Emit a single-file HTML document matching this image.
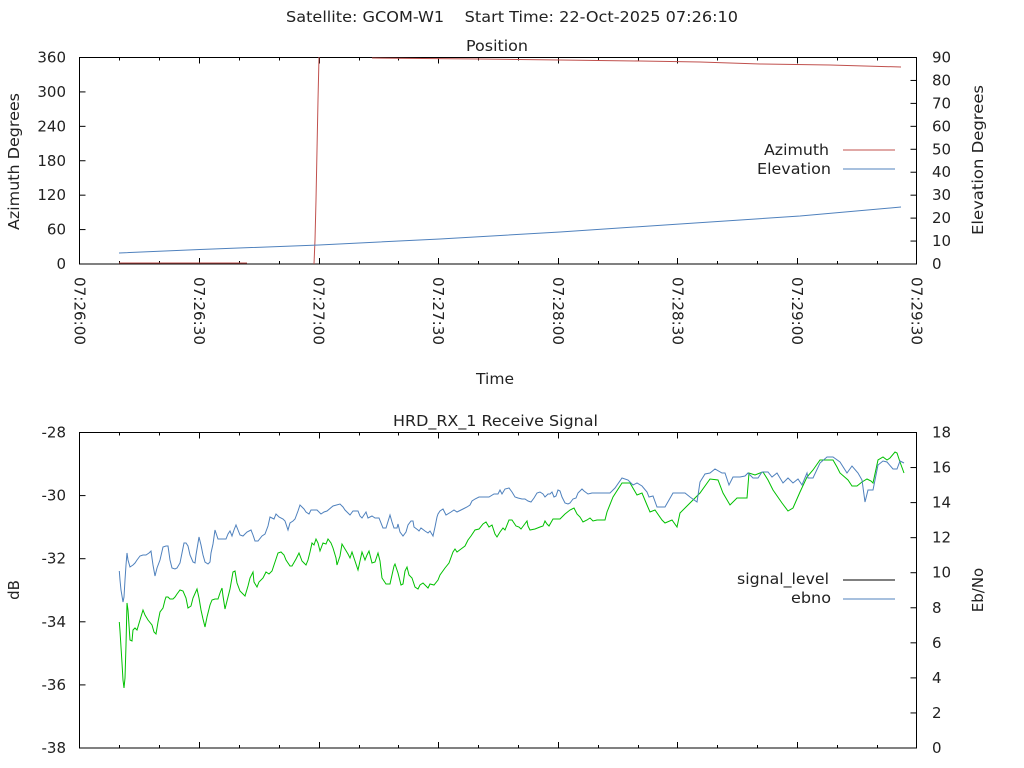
<!DOCTYPE html>
<html><head><meta charset="utf-8"><style>
html,body{margin:0;padding:0;background:#fff;}
svg{display:block;font-family:"DejaVu Sans","Liberation Sans",sans-serif;font-size:15px;fill:#222;}
</style></head><body>
<svg id="s" width="1024" height="768" xmlns="http://www.w3.org/2000/svg">
<text x="286" y="22" textLength="452" lengthAdjust="spacingAndGlyphs" xml:space="preserve">Satellite: GCOM-W1    Start Time: 22-Oct-2025 07:26:10</text>
<text x="466" y="51" textLength="62" lengthAdjust="spacingAndGlyphs">Position</text>
<text x="476" y="384" textLength="38" lengthAdjust="spacingAndGlyphs">Time</text>
<text x="393" y="426" textLength="205" lengthAdjust="spacingAndGlyphs">HRD_RX_1 Receive Signal</text>
<text transform="translate(19,230) rotate(-90)" textLength="137" lengthAdjust="spacingAndGlyphs">Azimuth Degrees</text>
<text transform="translate(983,235) rotate(-90)" textLength="150" lengthAdjust="spacingAndGlyphs">Elevation Degrees</text>
<text transform="translate(19,590) rotate(-90)" text-anchor="middle">dB</text>
<text transform="translate(983,590) rotate(-90)" text-anchor="middle">Eb/No</text>
<g id="g"></g>
<text x="764" y="155" textLength="65" lengthAdjust="spacingAndGlyphs">Azimuth</text>
<line x1="843" y1="150" x2="895" y2="150" stroke="#c0504d" stroke-width="1"/>
<text x="757" y="174" textLength="74" lengthAdjust="spacingAndGlyphs">Elevation</text>
<line x1="843" y1="169" x2="895" y2="169" stroke="#4f81bd" stroke-width="1"/>
<text x="737" y="584" textLength="92" lengthAdjust="spacingAndGlyphs">signal_level</text>
<line x1="843" y1="580" x2="895" y2="580" stroke="#000" stroke-width="1"/>
<text x="791" y="603" textLength="40" lengthAdjust="spacingAndGlyphs">ebno</text>
<line x1="843" y1="599" x2="895" y2="599" stroke="#4f81bd" stroke-width="1"/>
<polyline fill="none" stroke="#c0504d" stroke-width="1" points="119,263 247,263"/>
<polyline fill="none" stroke="#c0504d" stroke-width="1" points="314,264 315,240 316,200 317,150 318,100 319,57"/>
<polyline fill="none" stroke="#c0504d" stroke-width="1" points="372,58 480,59 560,60 640,61 700,62 760,64 830,65 901,67"/>
<polyline fill="none" stroke="#4f81bd" stroke-width="1" points="119,253 200,249.5 319,245 440,239 560,232 680,224 800,216 901,207"/>
<polyline fill="none" stroke="#00c000" stroke-width="1" points="119.3,622 120,631 121,647 122,663 123,680 124,688 125,678 126,645 127,603 128,610 130,640 132,641 133,630 135,628 137,630 140,620 143,610 145,615 148,620 152,625 154,632 156,634 158,622 160,612 163,608 165,600 166,597 168,597 170,599 173,599 175,597 177,594 180,590 183,591 186,598 188,608 191,606 193,598 197,589 199,598 201,610 203,619 205,627 207,617 210,605 212,600 215,599 218,599 220,593 222,588 223,596 225,609 228,597 230,589 233,572 235,571 237,583 240,591 243,594 245,596 248,586 250,578 253,572 254,582 257,587 259,582 263,578 264,576 266,572 269,574 272,571 275,562 278,553 281,552 284,555 286,560 290,566 292,566 296,559 299,553 302,561 304,563 306,565 308,560 310,552 312,543 314,545 316,539 318,543 320,551 323,543 326,544 328,539 331,543 333,548 336,558 337,565 340,556 342,544 345,549 348,554 350,558 352,552 354,558 358,570 362,552 365,560 367,555 369,551 372,563 375,562 378,553 380,561 382,578 386,584 390,584 394,566 395,564 398,573 401,585 403,584 405,571 407,567 409,575 412,578 415,587 418,589 420,585 423,583 426,586 428,588 430,584 434,585 438,580 440,575 445,568 449,563 453,552 455,549 457,552 461,549 465,546 468,540 471,536 475,530 479,529 483,524 486,522 489,527 492,525 495,534 497,537 500,532 503,528 505,530 509,520 512,520 516,526 519,527 521,529 524,525 527,521 528,526 530,530 535,529 540,527 543,526 545,521 547,524 549,526 553,519 556,519 560,519 565,514 570,510 574,508 577,514 580,517 583,522 587,520 590,518 593,521 597,520 600,520 605,520 607,512 613,497 622,483 630,483 637,495 642,493 647,505 650,512 655,510 662,520 665,523 672,520 677,527 680,513 690,503 700,493 710,479 718,480 723,493 730,505 737,498 747,498 749,473 755,475 760,473 763,472 768,480 773,490 782,503 788,511 793,508 800,492 807,477 813,470 820,460 833,460 837,467 840,473 848,480 852,486 857,486 862,482 867,479 871,481 873,483 878,460 883,457 887,460 890,458 895,452 897,453 900,462 904,473"/>
<polyline fill="none" stroke="#4f81bd" stroke-width="1" points="119.3,571 120,580 121,590 122,596 123,602 124,597 125,580 126,565 127,553 128,560 130,567 133,565 135,563 137,560 140,556 143,555 146,555 149,553 151,551 153,565 155,576 157,568 160,560 163,547 166,546 168,546 170,560 172,568 175,569 177,568 180,563 182,553 184,543 186,543 188,546 190,555 193,562 195,563 196,555 199,537 201,545 203,555 205,562 208,564 210,562 211,553 213,544 215,530 218,539 220,539 223,539 226,539 228,534 230,531 232,536 234,530 236,525 238,530 240,535 243,536 245,534 247,532 251,530 253,535 255,541 258,541 262,536 265,534 268,526 270,517 274,519 276,514 279,517 283,519 285,521 288,530 290,523 293,521 295,519 298,511 300,505 302,507 304,509 306,512 309,514 311,510 317,510 321,514 324,512 327,511 333,506 340,504 343,507 345,510 350,515 353,511 358,511 360,516 362,518 366,512 368,518 372,516 375,518 379,518 383,528 386,528 390,515 392,522 394,528 397,528 398,524 400,532 403,536 406,532 408,525 411,521 413,521 414,527 418,530 419,531 421,528 425,531 428,533 430,531 433,536 435,527 437,517 438,514 440,511 443,509 446,515 451,512 454,510 457,512 461,510 463,509 467,507 470,505 472,501 475,499 479,497 484,497 489,497 494,494 498,494 500,490 502,494 505,489 509,488 512,492 515,497 518,498 522,499 525,499 528,501 531,502 534,498 537,493 540,492 543,494 545,497 548,494 550,494 552,492 554,497 556,496 558,490 560,491 562,497 565,503 568,504 570,503 573,499 576,498 578,493 582,489 584,491 588,494 592,493 600,493 610,493 615,488 622,478 628,480 633,485 637,483 642,486 647,492 649,497 653,496 657,507 665,507 673,493 685,493 690,497 697,502 700,482 705,474 710,473 715,469 722,473 725,473 729,485 733,477 740,477 745,476 748,473 753,478 758,478 762,472 768,472 772,477 777,473 783,483 788,478 793,483 798,479 802,485 807,473 808,478 813,478 820,463 827,457 833,457 840,462 847,473 852,466 858,473 862,480 865,502 868,490 873,490 878,465 883,461 887,462 893,469 897,469 900,461 904,463"/>
</svg>
<script>
var g=document.getElementById('g'),h='';
function L(a,b,c,d){h+='<line x1="'+a+'" y1="'+b+'" x2="'+c+'" y2="'+d+'" stroke="#000" stroke-width="1"/>';}
function T(x,y,t,a){h+='<text x="'+x+'" y="'+y+'" text-anchor="'+a+'">'+t+'</text>';}
var X0=79.5,X1=916.5,dx=(X1-X0)/21;
[[57.5,264],[432.5,748]].forEach(function(p){
 h+='<rect x="'+X0+'" y="'+p[0]+'" width="'+(X1-X0)+'" height="'+(p[1]-p[0])+'" fill="none" stroke="#000" stroke-width="1"/>';
 for(var k=1;k<21;k++){var x=Math.round(X0+k*dx)+0.5,l=(k%3==0)?6:3;L(x,p[0],x,p[0]+l);L(x,p[1],x,p[1]-l);}
});
var labs=['07:26:00','07:26:30','07:27:00','07:27:30','07:28:00','07:28:30','07:29:00','07:29:30'];
for(var i=0;i<8;i++){var x=X0+i*3*dx;h+='<text transform="translate('+(x-5)+',277) rotate(90)" textLength="68" lengthAdjust="spacingAndGlyphs">'+labs[i]+'</text>';}
for(var v=0;v<=360;v+=60){var y=264-v/360*206.5;if(v>0&&v<360)L(X0,y,X0+6,y);T(66,y+5,v,'end');}
for(var v=0;v<=90;v+=10){var y=264-v/90*206.5;if(v>0&&v<90)L(X1,y,X1-6,y);T(932,y+5,v,'start');}
for(var v=-28;v>=-38;v-=2){var y=432.5+(-28-v)*31.55;if(v<-28&&v>-38)L(X0,y,X0+6,y);T(66,y+5,v,'end');}
for(var v=0;v<=18;v+=2){var y=748-v*315.5/18;if(v>0&&v<18)L(X1,y,X1-6,y);T(932,y+5,v,'start');}
g.innerHTML=h;
</script>
</body></html>
